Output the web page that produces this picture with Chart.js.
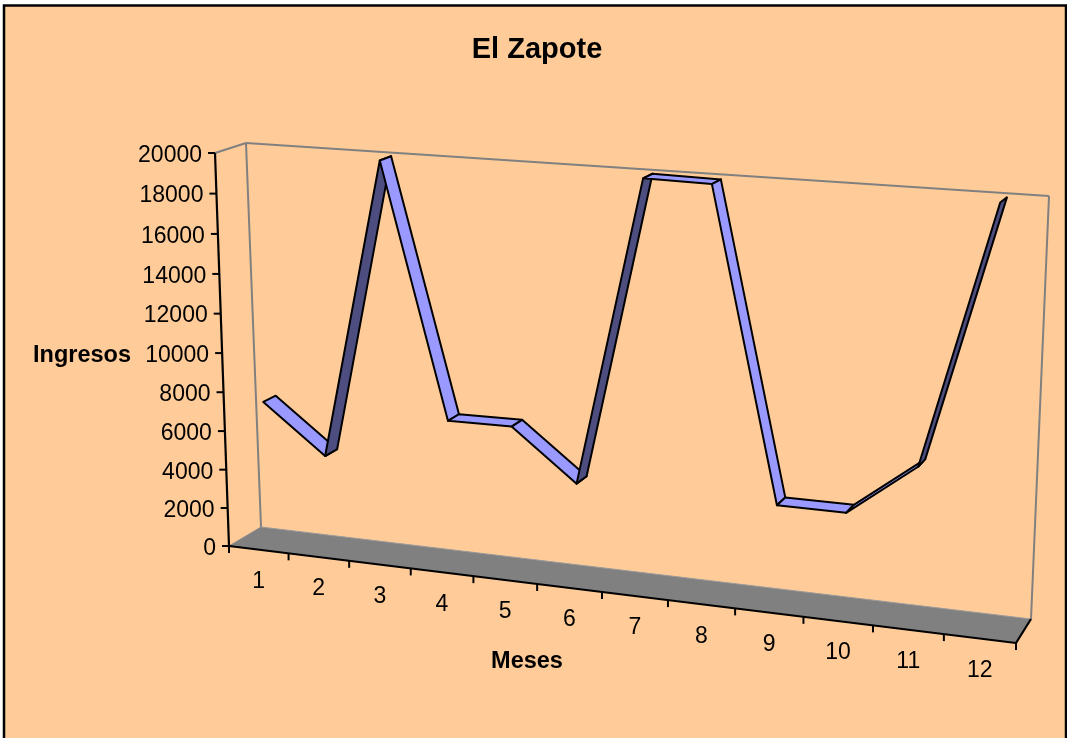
<!DOCTYPE html>
<html lang="en">
<head>
<meta charset="UTF-8">
<title>El Zapote</title>
<script src="https://cdn.jsdelivr.net/npm/chart.js"></script>
<style>
  html, body { margin: 0; padding: 0; background: #fff; }
  canvas { display: block; }
</style>
</head>
<body>
<canvas id="chart" width="1067" height="738"></canvas>
<script>
const meses = ['1', '2', '3', '4', '5', '6', '7', '8', '9', '10', '11', '12'];
const ingresos = [7420, 4960, 20000, 7420, 7460, 4950, 20000, 19950, 4960, 4960, 7530, 20000];
const yMax = 20000;
const yStep = 2000;

// corners of the 3D box as they appear on screen: [bottom-left, bottom-right, top-right, top-left]
const frontWall = [[229, 546], [1016, 643], [1033, 209], [215, 153]];
const backWall = [[261, 527], [1031, 619], [1049, 196], [246, 143]];
const ribbonNear = 0.3;
const ribbonFar = 0.7;
const FONT = '"Liberation Sans", Arial, sans-serif';

function homography(q) {
  const [[x0, y0], [x1, y1], [x2, y2], [x3, y3]] = q;
  const dx1 = x1 - x2, dx2 = x3 - x2, sx = x0 - x1 + x2 - x3;
  const dy1 = y1 - y2, dy2 = y3 - y2, sy = y0 - y1 + y2 - y3;
  const den = dx1 * dy2 - dx2 * dy1;
  const g = (sx * dy2 - dx2 * sy) / den;
  const h = (dx1 * sy - sx * dy1) / den;
  const a = x1 - x0 + g * x1, b = x3 - x0 + h * x3;
  const d = y1 - y0 + g * y1, e = y3 - y0 + h * y3;
  return (u, v) => {
    const w = g * u + h * v + 1;
    return [(a * u + b * v + x0) / w, (d * u + e * v + y0) / w];
  };
}
const mapFront = homography(frontWall);
const mapBack = homography(backWall);

// u, v: 0..1 along the x and y scales, depth: 0 front, 1 back
function project(u, v, depth) {
  const f = mapFront(u, v), b = mapBack(u, v);
  return [f[0] + (b[0] - f[0]) * depth, f[1] + (b[1] - f[1]) * depth];
}

function poly(ctx, pts, fill, stroke, lw) {
  ctx.beginPath();
  pts.forEach((p, i) => i ? ctx.lineTo(p[0], p[1]) : ctx.moveTo(p[0], p[1]));
  ctx.closePath();
  if (fill) { ctx.fillStyle = fill; ctx.fill(); }
  if (stroke) { ctx.strokeStyle = stroke; ctx.lineWidth = lw; ctx.stroke(); }
}

function seg(ctx, a, b, color, lw) {
  ctx.beginPath();
  ctx.moveTo(a[0], a[1]);
  ctx.lineTo(b[0], b[1]);
  ctx.strokeStyle = color;
  ctx.lineWidth = lw;
  ctx.stroke();
}

const box3d = {
  id: 'box3d',
  afterDraw(chart) {
    const ctx = chart.ctx, area = chart.chartArea;
    const xs = chart.scales.x, ys = chart.scales.y;
    const U = px => (px - area.left) / (area.right - area.left);
    const V = py => (area.bottom - py) / (area.bottom - area.top);
    ctx.save();
    ctx.lineJoin = 'round';

    // walls
    const grey = '#808080';
    seg(ctx, project(0, 1, 0), project(0, 1, 1), grey, 2);
    seg(ctx, project(0, 1, 1), project(1, 1, 1), grey, 2);
    seg(ctx, project(0, 0, 1), project(0, 1, 1), grey, 2);
    seg(ctx, project(1, 0, 1), project(1, 1, 1), grey, 2);

    // floor
    poly(ctx, [project(0, 0, 0), project(1, 0, 0), project(1, 0, 1), project(0, 0, 1)], '#808080', null);
    seg(ctx, project(0, 0, 0), project(0, 0, 1), '#8c8c8c', 1);
    seg(ctx, project(0, 0, 1), project(1, 0, 1), '#9a9a9a', 1);

    // ribbon
    const near = [], far = [];
    ingresos.forEach((val, i) => {
      const u = U(xs.getPixelForValue(i)), v = V(ys.getPixelForValue(val));
      near.push(project(u, v, ribbonNear));
      far.push(project(u, v, ribbonFar));
    });
    for (let i = 0; i < near.length - 1; i++) {
      const ax = near[i + 1][0] - near[i][0], ay = near[i + 1][1] - near[i][1];
      const bx = far[i][0] - near[i][0], by = far[i][1] - near[i][1];
      const fill = ax * by - ay * bx > 0 ? '#4d4d80' : '#9999ff';
      poly(ctx, [near[i], near[i + 1], far[i + 1], far[i]], fill, '#000', 2);
    }

    // axes
    seg(ctx, project(0, 0, 0), project(0, 1, 0), '#000', 2.2);
    seg(ctx, project(0, 0, 0), project(1, 0, 0), '#000', 2.2);
    seg(ctx, project(1, 0, 0), project(1, 0, 1), '#000', 2.2);

    ctx.fillStyle = '#000';
    ctx.font = '23px ' + FONT;
    ctx.textAlign = 'right';
    ctx.textBaseline = 'middle';
    ys.ticks.forEach(t => {
      const p = project(0, V(ys.getPixelForValue(t.value)), 0);
      seg(ctx, [p[0] - 7, p[1]], p, '#000', 2);
      ctx.fillText(String(t.value), p[0] - 13, p[1] + 2.5);
    });

    ctx.textAlign = 'center';
    for (let i = 0; i <= meses.length; i++) {
      const p = project(U(xs.getPixelForValue(i - 0.5)), 0, 0);
      seg(ctx, p, [p[0], p[1] + 7], '#000', 2);
    }
    meses.forEach((m, i) => {
      const p = project(U(xs.getPixelForValue(i)), 0, 0);
      ctx.fillText(m, p[0], p[1] + 32);
    });

    ctx.font = 'bold 23.5px ' + FONT;
    ctx.fillText('Ingresos', 82, 356);
    ctx.fillText('Meses', 527, 662);

    ctx.font = 'bold 29px ' + FONT;
    ctx.fillText('El Zapote', 537, 50);
    ctx.restore();
  }
};

const frame = {
  id: 'frame',
  beforeDraw(chart) {
    const ctx = chart.ctx;
    ctx.save();
    ctx.fillStyle = '#FFCC99';
    ctx.fillRect(4, 5, 1062, 733);
    ctx.strokeStyle = '#000';
    ctx.lineWidth = 2.5;
    ctx.beginPath();
    ctx.moveTo(4, 738);
    ctx.lineTo(4, 5.5);
    ctx.lineTo(1066, 5.5);
    ctx.lineTo(1066, 738);
    ctx.stroke();
    ctx.restore();
  }
};

new Chart(document.getElementById('chart'), {
  type: 'line',
  data: {
    labels: meses,
    datasets: [{
      label: 'Ingresos',
      data: ingresos,
      showLine: false,
      pointRadius: 0,
      borderColor: '#9999ff',
      backgroundColor: '#9999ff'
    }]
  },
  options: {
    responsive: false,
    animation: false,
    events: [],
    layout: { padding: { top: 60, left: 100, right: 100, bottom: 100 } },
    plugins: {
      legend: { display: false },
      tooltip: { enabled: false }
    },
    scales: {
      x: { type: 'category', offset: true, display: false },
      y: { min: 0, max: yMax, ticks: { stepSize: yStep }, display: false }
    }
  },
  plugins: [frame, box3d]
});
</script>
</body>
</html>
